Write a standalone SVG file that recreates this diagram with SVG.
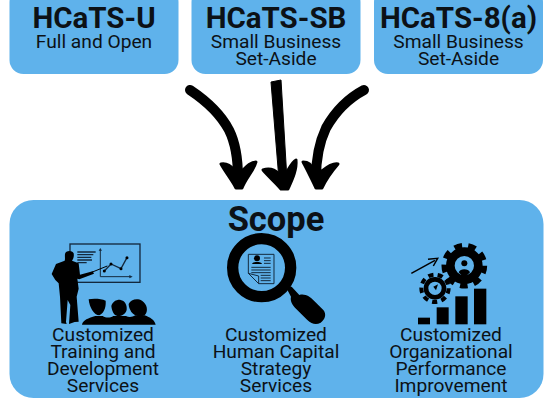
<svg xmlns="http://www.w3.org/2000/svg" width="548" height="402" viewBox="0 0 548 402">
<style>
.box{fill:#5fb2eb}
text{font-family:Roboto,"Liberation Sans",sans-serif;text-anchor:middle;fill:#0c1116}
.t{font-size:29.500px;font-weight:700}
.s{font-size:19.200px}
.sc{font-size:34.500px;font-weight:700}
.a{fill:none;stroke:#000;stroke-linecap:round}
.h{fill:#000;stroke:#000;stroke-width:3;stroke-linejoin:round}
.l{stroke:#14293d;fill:none}
</style>
<rect width="548" height="402" fill="#fff"/>
<g id="node-u"><rect class="box" x="9.500" y="-12" width="169" height="86" rx="14"/><text class="t" x="94" y="28">HCaTS-U</text><text class="s" x="94" y="47.500">Full and Open</text></g>
<g id="node-sb"><rect class="box" x="191.500" y="-12" width="169" height="86" rx="14"/><text class="t" x="276" y="28">HCaTS-SB</text><text class="s" x="276" y="47.500">Small Business</text><text class="s" x="276" y="64.500">Set-Aside</text></g>
<g id="node-8a"><rect class="box" x="374" y="-12" width="169" height="86" rx="14"/><text class="t" x="458.500" y="28">HCaTS-8(a)</text><text class="s" x="458.500" y="47.500">Small Business</text><text class="s" x="458.500" y="64.500">Set-Aside</text></g>
<g id="connectors">
<path class="a" stroke-width="10" d="M190 90C205 100 220 113 229 130C236 144 238 160 238 178"/>
<path class="h" d="M221 164C227 163 231 166 234 170L243 170C247 166 251 162 256 162C254 170 246 178 242 188L236 188C232 180 226 173 221 164Z"/>
<path d="M271 82L281 80L287 180L279 180Z" stroke="#000" stroke-width="1"/>
<path class="h" d="M263 170C269 168 275 170 279 174L287 172C290 167 292 162 296 160C297 170 292 180 288 189L281 189C276 183 269 177 263 170Z"/>
<path class="a" stroke-width="10" d="M364 90C349 98 335 112 326 128C319 143 316 160 316 178"/>
<path class="h" d="M303 162C309 162 312 166 313 170L322 171C327 167 333 163 338 164C332 171 326 179 322 188L316 188C312 180 308 171 303 162Z"/>
</g>
<g id="node-scope"><rect class="box" x="9.500" y="200" width="534" height="198" rx="24"/><text class="sc" x="276" y="231">Scope</text>
<text class="s" x="103" y="340.500">Customized</text><text class="s" x="103" y="357.500">Training and</text><text class="s" x="103" y="374.500">Development</text><text class="s" x="103" y="391.500">Services</text>
<text class="s" x="276" y="340.500">Customized</text><text class="s" x="276" y="357.500">Human Capital</text><text class="s" x="276" y="374.500">Strategy</text><text class="s" x="276" y="391.500">Services</text>
<text class="s" x="451" y="340.500">Customized</text><text class="s" x="451" y="357.500">Organizational</text><text class="s" x="451" y="374.500">Performance</text><text class="s" x="451" y="391.500">Improvement</text>
</g>
<g id="icon-training" transform="translate(30 230) scale(.3333)">
<rect class="l" x="120" y="42" width="210" height="115" stroke-width="4"/>
<path class="l" stroke-width="4" d="M142 66H197M142 74H190M142 82H184M142 90H186M142 98H170"/>
<path class="l" stroke-width="3" d="M211 60V140H302"/>
<path d="M206 62L211 54L216 62ZM298 135L308 140L298 145Z" fill="#14293d"/>
<path class="l" stroke-width="4" d="M223 123L243 102L273 116L291 83"/>
<circle cx="223" cy="123" r="4.500"/><circle cx="243" cy="102" r="4.500"/><circle cx="273" cy="116" r="4.500"/><circle cx="291" cy="83" r="4.500"/>
<path stroke-width="3" stroke="#000" d="M180 129L232 108"/>
<path d="M105 72C106 61 126 59 131 70C133 80 129 88 126 92L146 100L150 134L188 124L192 131L148 148L142 146L146 176L140 200L146 275L134 276L117 282L121 225L113 210L108 276L110 282L94 280L90 200L86 160L76 150L65 132L78 102L104 92C106 88 104 80 105 72Z" fill="#000"/>
<path d="M156 284C158 270 176 264 196 258L218 258C228 264 240 264 250 258L288 258C296 262 306 262 316 256L344 256C360 262 374 270 377 284Z" fill="#000"/>
<path d="M176 208C190 205 214 206 227 212C228 226 226 246 208 256C192 256 178 232 176 208Z" fill="#000"/>
<path d="M244 228C248 214 262 208 272 210C284 212 292 224 290 240C286 254 272 260 262 258C252 256 246 244 244 228Z" fill="#000"/>
<path d="M296 222C302 208 322 204 336 212C352 222 356 244 344 256C332 262 312 258 304 246C300 238 296 232 296 222Z" fill="#000"/>
</g>
<g id="icon-strategy" transform="translate(210 230) scale(.3333)">
<circle cx="155" cy="113" r="87" fill="none" stroke="#000" stroke-width="34"/>
<path d="M228 172L245 170L268 195C285 190 300 200 312 212L340 240C350 252 346 268 332 278C318 286 305 282 292 270L258 236C246 224 240 212 243 200Z" fill="#000"/>
<path d="M115 73H192V161H146L115 130Z" fill="#5fb2eb" stroke="#14293d" stroke-width="3"/>
<path d="M115 130L146 138V161Z" fill="#5fb2eb" stroke="#14293d" stroke-width="3"/>
<circle cx="141" cy="85" r="9"/><path d="M126 102C128 94 154 94 156 102Z"/>
<path class="l" stroke-width="3" d="M162 84H182M162 92H182M162 100H182M124 112H182M124 120H182M124 128H182M152 136H182M152 144H182M152 152H182"/>
</g>
<g id="icon-performance" transform="translate(400 235) scale(.3333)">
<path d="M34 115L105 76" stroke="#000" stroke-width="4.500" fill="none"/>
<path d="M84 73L113 70L100 93" fill="none" stroke="#000" stroke-width="4.500"/>
<circle cx="193" cy="92" r="42" fill="none" stroke="#000" stroke-width="26"/>
<circle cx="193" cy="92" r="60" fill="none" stroke="#000" stroke-width="17" pathLength="90" stroke-dasharray="5.500 4.500"/>
<circle cx="193" cy="85" r="9" fill="#000"/><path d="M176 112C180 100 206 100 210 112L193 130Z" fill="#000"/>
<circle cx="105" cy="160" r="27" fill="none" stroke="#000" stroke-width="14"/>
<circle cx="105" cy="160" r="41" fill="none" stroke="#000" stroke-width="12" pathLength="90" stroke-dasharray="5.500 4.500"/>
<path d="M100 155L114 148L108 166Z" fill="#000"/>
<rect x="54" y="248" width="36" height="20"/><rect x="110" y="217" width="36" height="51"/><rect x="166" y="184" width="37" height="84"/><rect x="222" y="161" width="37" height="107"/>
</g>
</svg>
